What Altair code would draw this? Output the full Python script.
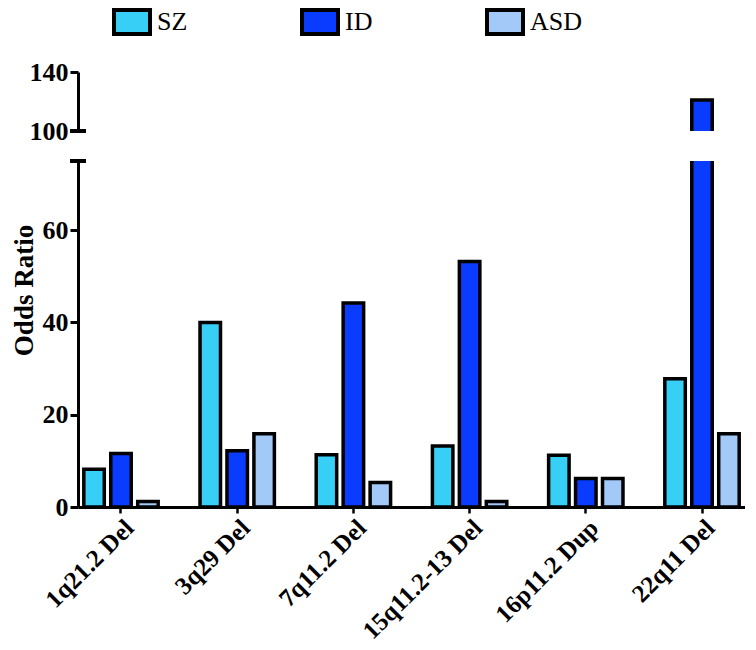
import altair as alt
import pandas as pd

categories = ["1q21.2 Del", "3q29 Del", "7q11.2 Del", "15q11.2-13 Del", "16p11.2 Dup", "22q11 Del"]
series = ["SZ", "ID", "ASD"]
sz_values = [8.2, 40.0, 11.3, 13.2, 11.2, 27.8]
id_values = [11.6, 12.2, 44.2, 53.2, 6.2, 121.0]
asd_values = [1.2, 15.9, 5.3, 1.2, 6.2, 15.9]
colors = ["#38cff6", "#0a3cff", "#a3c9f9"]

lower_ticks = [0, 20, 40, 60]
upper_ticks = [100, 120, 140]
lower_domain = [0, 75]
upper_domain = [100, 140]

rows = []
for i, c in enumerate(categories):
    for s, vals in zip(series, [sz_values, id_values, asd_values]):
        rows.append({"CNV": c, "Disorder": s, "OR": vals[i]})
df = pd.DataFrame(rows)

FONT = "Liberation Serif"
W = 667

x_scale = alt.Scale(paddingInner=0.36, paddingOuter=0.05)
xoff = alt.XOffset("Disorder:N", sort=series,
                   scale=alt.Scale(paddingInner=0.24, paddingOuter=0.0))
color = alt.Color(
    "Disorder:N", sort=series,
    scale=alt.Scale(domain=series, range=colors),
    legend=alt.Legend(
        title=None, orient="none", direction="horizontal",
        legendX=40, legendY=-64, padding=0, offset=0,
        symbolType="M-1.5,-1L1.5,-1L1.5,1L-1.5,1Z",
        symbolSize=576, symbolStrokeColor="black", symbolStrokeWidth=4,
        symbolOpacity=1,
        labelFont=FONT, labelFontSize=26, labelColor="black",
        labelOffset=11, columnPadding=106, labelLimit=200,
    ),
)

bar_style = dict(stroke="black", strokeWidth=3.5, clip=True)

y_axis_style = dict(grid=False, domainColor="black", domainWidth=3,
                    tickColor="black", tickWidth=3, tickSize=8,
                    labelFont=FONT, labelFontSize=26, labelFontWeight="bold",
                    labelColor="black", labelPadding=2)

# upper segment: bars run from zero, only the part above the break is visible
upper_bars = alt.Chart(df).mark_bar(**bar_style).encode(
    x=alt.X("CNV:N", sort=categories, scale=x_scale, axis=None),
    xOffset=xoff,
    y=alt.Y("OR:Q", scale=alt.Scale(domain=upper_domain, nice=False, zero=False),
            axis=alt.Axis(values=upper_ticks, title=None, **y_axis_style)),
    y2=alt.datum(0),
    color=color,
)
upper_break = alt.Chart(df).mark_rule(color="black", strokeWidth=3).encode(
    y=alt.datum(upper_domain[0]), x=alt.value(-8), x2=alt.value(8)
)
upper = alt.layer(upper_bars, upper_break).properties(width=W, height=59)

# lower segment
lower_bars = alt.Chart(df).mark_bar(**bar_style).encode(
    x=alt.X("CNV:N", sort=categories, scale=x_scale,
            axis=alt.Axis(title=None, labelAngle=315, labelFont=FONT, labelFontSize=25,
                          labelFontWeight="bold", labelColor="black",
                          domainColor="black", domainWidth=3,
                          tickColor="black", tickWidth=2.5, tickSize=6,
                          labelPadding=2, labelOverlap=False, labelLimit=300)),
    xOffset=xoff,
    y=alt.Y("OR:Q", scale=alt.Scale(domain=lower_domain, nice=False),
            axis=alt.Axis(values=lower_ticks, title="Odds Ratio",
                          titleFont=FONT, titleFontSize=27, titleFontWeight="bold",
                          titleColor="black", titleY=129, titlePadding=4,
                          **y_axis_style)),
    color=color,
)
lower_break = alt.Chart(df).mark_rule(color="black", strokeWidth=3).encode(
    y=alt.datum(lower_domain[1]), x=alt.value(-8), x2=alt.value(8)
)
lower = alt.layer(lower_bars, lower_break).properties(width=W, height=346)

chart = alt.vconcat(upper, lower, spacing=15).resolve_scale(
    color="shared", y="independent"
).properties(
    padding={"left": 2, "top": 0, "right": 0, "bottom": 0},
    background="white",
).configure_view(stroke=None, strokeWidth=0).configure_axis(grid=False)

chart.save("out.html", embed_options={"renderer": "svg", "actions": False})
